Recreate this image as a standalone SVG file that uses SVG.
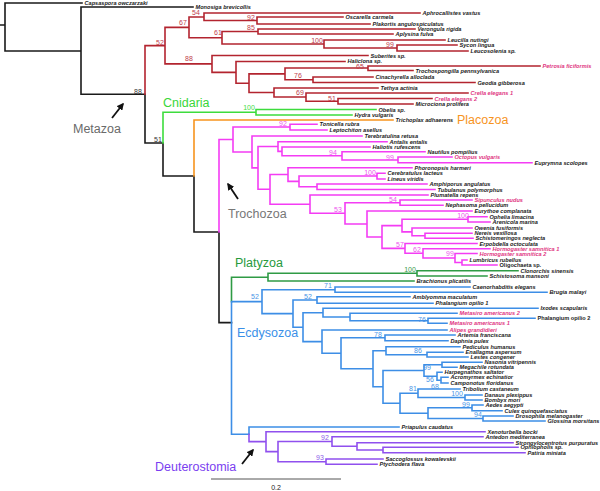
<svg xmlns="http://www.w3.org/2000/svg" width="600" height="491" viewBox="0 0 600 491">
<style>
.br{fill:none;stroke-width:1.6;stroke-linecap:square}
.lf text{font-family:"Liberation Sans",Arial,sans-serif;font-size:5.6px;font-weight:bold;font-style:italic;fill:#1c1c1c}
.lf text.up{font-style:normal}
.lf text.pk{fill:#e0357f}
.bs text{font-family:"Liberation Sans",Arial,sans-serif;font-size:7px;text-anchor:middle}
.cl{font-family:"Liberation Sans",Arial,sans-serif;font-size:12.5px}
</style>
<defs>
<marker id="ah" viewBox="0 0 10 10" refX="8" refY="5" markerWidth="4" markerHeight="4" orient="auto"><path d="M0,0L10,5L0,10z" fill="#111"/></marker>
</defs>
<g id="connectors">
<path class="br" stroke="#1a1a1a" stroke-width="1.5" d="M0,25H5M5,3V51M5,3H82M5,51H81M81,7V94.3M81,7H193M81,94.3H145M145,94.3V143M145,143H163M163,143V176M163,176H194M194,176V232M194,232H219M219,232V322.6M219,322.6H231.5"/>
<path class="br" stroke="#b3242f" d="M145,45.6V94.3M145,45.6H165M165,27.4V63.9M165,27.4H189M165,63.9H212M189,17V37.75M189,17H204M189,37.75H222M204,13V20.5M204,13H420M204,20.5H257M257,17V24M257,17H343M257,24H370M222,31.5V44M222,31.5H258M222,44H324M258,29V34M258,29H415M258,34H393M324,40V48M324,40H445M324,48H397M397,45V51M397,45H457M397,51H468M212,55.5V72.35M212,55.5H368M212,72.35H236M236,61.5V83.2M236,61.5H345M236,83.2H249M249,73.9V92.5M249,73.9H285M249,92.5H274M285,68V79.75M285,68H368M285,79.75H313M368,66V70.5M368,66H540M368,70.5H413M313,77V82.5M313,77H373M313,82.5H475M274,88V97M274,88H378M274,97H306M306,93V101.25M306,93H468M306,101.25H338M338,98.5V104M338,98.5H432M338,104H413"/>
<path class="br" stroke="#3ddc3d" d="M163,112.25V143M163,112.25H256M256,109.5V115M256,109.5H376M256,115H352"/>
<path class="br" stroke="#f7941e" d="M194,120V176M194,120H393"/>
<path class="br" stroke="#f43cf4" d="M219,139.5V232M219,139.5H233M233,127V152M233,127H290M233,152H252M290,124.3V130M290,124.3H317M290,130H327M252,136V167.9M252,136H362M252,167.9H258M258,146.5V189.3M258,146.5H278M258,189.3H270M278,141.7V151.4M278,141.7H387M278,151.4H282M282,147V155.8M282,147H370M282,155.8H342M342,151.7V160M342,151.7H425M342,160H398M398,157V162.7M398,157H452M398,162.7H532M270,174.5V204.2M270,174.5H288M270,204.2H310M288,167.7V181.4M288,167.7H412M288,181.4H299M299,176V186.7M299,176H377M299,186.7H317M377,173.3V179M377,173.3H385M377,179H385M317,184V189.5M317,184H427M317,189.5H435M310,195V213.3M310,195H428M310,213.3H345M345,202.7V224M345,202.7H400M345,224H367M400,200V205.3M400,200H472M400,205.3H443M367,211V237M367,211H472M367,237H382M382,225.6V248.4M382,225.6H402M382,248.4H405M402,219.3V231.9M402,219.3H468M402,231.9H412M468,216.7V222M468,216.7H487M468,222H490M412,228V235.8M412,228H472M412,235.8H425M425,233.3V238.3M425,233.3H472M425,238.3H473M405,243.5V253.3M405,243.5H477M405,253.3H423M423,248.7V258M423,248.7H490M423,258H455M455,253.5V262.5M455,253.5H477M455,262.5H462M462,260V265M462,260H467M462,265H497"/>
<path class="br" stroke="#2f9b45" d="M231.5,277.2V301.6M231.5,277.2H268M268,273.3V281M268,273.3H417M268,281H414M417,270.7V276M417,270.7H518M417,276H487"/>
<path class="br" stroke="#3d8ee6" d="M231.5,301.6V434.3M231.5,301.6H262M231.5,434.3H249M249,427V434.3M249,427H399M262,289.7V313.6M262,289.7H335M262,313.6H293M335,287V292.3M335,287H470M335,292.3H547M293,300V327.2M293,300H317M293,327.2H303M317,296.7V303.3M317,296.7H410M317,303.3H433M303,312.7V341.6M303,312.7H323M303,341.6H322M323,308.3V317M323,308.3H538M323,317H350M350,313.3V320.8M350,313.3H457M350,320.8H428M428,318.3V323.3M428,318.3H535M428,323.3H447M322,330V353.3M322,330H447M322,353.3H341M341,337.8V368.7M341,337.8H385M341,368.7H373M385,335V340.7M385,335H455M385,340.7H448M373,350.7V386.8M373,350.7H386M373,386.8H383M386,346.7V354.7M386,346.7H460M386,354.7H427M427,352.3V357M427,352.3H463M427,357H468M383,370.5V403.2M383,370.5H424M383,403.2H400M424,364.8V376.2M424,364.8H442M424,376.2H437M442,362.3V367.3M442,362.3H482M442,367.3H457M437,372.3V380.2M437,372.3H442M437,380.2H441M441,377.3V383M441,377.3H448M441,383H448M400,393.2V413.2M400,393.2H418M400,413.2H428M418,389V397.5M418,389H460M418,397.5H465M465,395V400M465,395H482M465,400H482M428,407.8V418.5M428,407.8H472M428,418.5H483M472,405V410.7M472,405H483M472,410.7H502M483,416V421M483,416H513M483,421H545"/>
<path class="br" stroke="#9050ee" d="M249,434.3V441.6M249,441.6H266M266,431.7V451.6M266,431.7H485M266,451.6H278M278,441.5V461.7M278,441.5H332M278,461.7H326M332,436.7V446.3M332,436.7H483M332,446.3H357M357,442.7V450M357,442.7H513M357,450H383M383,447.3V452.7M383,447.3H518M383,452.7H525M326,459V464.3M326,459H383M326,464.3H377"/>
<path stroke="#111" stroke-width="1.8" fill="none" marker-end="url(#ah)" d="M112,118L123,104"/>
<path stroke="#111" stroke-width="1.8" fill="none" marker-end="url(#ah)" d="M238,199L228,184"/>
<path stroke="#111" stroke-width="1.8" fill="none" marker-end="url(#ah)" d="M242,464L253,450"/>
</g>
<g class="lf">
<g id="leaf-capsaspora"><text x="84.5" y="5">Capsaspora owczarzaki</text></g>
<g id="leaf-monosiga"><text x="195.5" y="9">Monosiga brevicollis</text></g>
<g id="leaf-aphrocallistes"><text x="422.5" y="15">Aphrocallistes vastus</text></g>
<g id="leaf-oscarella"><text x="345.5" y="19">Oscarella carmela</text></g>
<g id="leaf-plakortis"><text x="372.5" y="26">Plakortis angulospiculatus</text></g>
<g id="leaf-verongula"><text x="417.5" y="31">Verongula rigida</text></g>
<g id="leaf-aplysina"><text x="395.5" y="36">Aplysina fulva</text></g>
<g id="leaf-leucilla"><text x="447.5" y="42">Leucilla nutingi</text></g>
<g id="leaf-sycon"><text x="459.5" y="47">Sycon lingua</text></g>
<g id="leaf-leucosolenia"><text x="470.5" y="53">Leucosolenia sp.</text></g>
<g id="leaf-suberites"><text x="370.5" y="57.5">Suberites sp.</text></g>
<g id="leaf-haliclona"><text x="347.5" y="63">Haliclona sp.</text></g>
<g id="leaf-petrosia"><text class="pk" x="542.5" y="68">Petrosia ficiformis</text></g>
<g id="leaf-trochospongilla"><text x="415.5" y="72.5">Trochospongilla pennsylvanica</text></g>
<g id="leaf-cinachyrella"><text x="375.5" y="79">Cinachyrella alloclada</text></g>
<g id="leaf-geodia"><text x="477.5" y="84.5">Geodia gibberosa</text></g>
<g id="leaf-tethya"><text x="380.5" y="90">Tethya actinia</text></g>
<g id="leaf-crella1"><text class="pk" x="470.5" y="95">Crella elegans 1</text></g>
<g id="leaf-crella2"><text class="pk" x="434.5" y="100.5">Crella elegans 2</text></g>
<g id="leaf-microciona"><text x="415.5" y="106">Microciona prolifera</text></g>
<g id="leaf-obelia"><text x="378.5" y="111.5">Obelia sp.</text></g>
<g id="leaf-hydra"><text x="354.5" y="117">Hydra vulgaris</text></g>
<g id="leaf-trichoplax"><text x="395.5" y="122">Trichoplax adhaerens</text></g>
<g id="leaf-tonicella"><text x="319.5" y="126.3">Tonicella rubra</text></g>
<g id="leaf-leptochiton"><text x="329.5" y="132">Leptochiton asellus</text></g>
<g id="leaf-terebratulina"><text x="364.5" y="138">Terebratulina retusa</text></g>
<g id="leaf-antalis"><text x="389.5" y="143.7">Antalis entalis</text></g>
<g id="leaf-haliotis"><text x="372.5" y="149">Haliotis rufescens</text></g>
<g id="leaf-nautilus"><text x="427.5" y="153.7">Nautilus pompilius</text></g>
<g id="leaf-octopus"><text class="pk" x="454.5" y="159">Octopus vulgaris</text></g>
<g id="leaf-euprymna"><text x="534.5" y="164.7">Euprymna scolopes</text></g>
<g id="leaf-phoronopsis"><text x="414.5" y="169.7">Phoronopsis harmeri</text></g>
<g id="leaf-cerebratulus"><text x="387.5" y="175.3">Cerebratulus lacteus</text></g>
<g id="leaf-lineus"><text x="387.5" y="181">Lineus viridis</text></g>
<g id="leaf-amphiporus"><text x="429.5" y="186">Amphiporus angulatus</text></g>
<g id="leaf-tubulanus"><text x="437.5" y="191.5">Tubulanus polymorphus</text></g>
<g id="leaf-plumatella"><text x="430.5" y="197">Plumatella repens</text></g>
<g id="leaf-sipunculus"><text class="pk" x="474.5" y="202">Sipunculus nudus</text></g>
<g id="leaf-nephasoma"><text x="445.5" y="207.3">Nephasoma pellucidum</text></g>
<g id="leaf-eurythoe"><text x="474.5" y="213">Eurythoe complanata</text></g>
<g id="leaf-ophelia"><text x="489.5" y="218.7">Ophelia limacina</text></g>
<g id="leaf-arenicola"><text x="492.5" y="224">Arenicola marina</text></g>
<g id="leaf-owenia"><text x="474.5" y="230">Owenia fusiformis</text></g>
<g id="leaf-nereis"><text x="474.5" y="235.3">Nereis vexillosa</text></g>
<g id="leaf-schistomeringos"><text x="475.5" y="240.3">Schistomeringos neglecta</text></g>
<g id="leaf-erpobdella"><text x="479.5" y="245.5">Erpobdella octoculata</text></g>
<g id="leaf-hormogaster1"><text class="pk" x="492.5" y="250.7">Hormogaster samnitica 1</text></g>
<g id="leaf-hormogaster2"><text class="pk" x="479.5" y="255.5">Hormogaster samnitica 2</text></g>
<g id="leaf-lumbricus"><text x="469.5" y="262">Lumbricus rubellus</text></g>
<g id="leaf-oligochaeta"><text class="up" x="499.5" y="267">Oligochaeta sp.</text></g>
<g id="leaf-clonorchis"><text x="520.5" y="272.7">Clonorchis sinensis</text></g>
<g id="leaf-schistosoma"><text x="489.5" y="278">Schistosoma mansoni</text></g>
<g id="leaf-brachionus"><text x="416.5" y="283">Brachionus plicatilis</text></g>
<g id="leaf-caenorhabditis"><text x="472.5" y="289">Caenorhabditis elegans</text></g>
<g id="leaf-brugia"><text x="549.5" y="294.3">Brugia malayi</text></g>
<g id="leaf-amblyomma"><text x="412.5" y="298.7">Amblyomma maculatum</text></g>
<g id="leaf-phalangium1"><text x="435.5" y="305.3">Phalangium opilio 1</text></g>
<g id="leaf-ixodes"><text x="540.5" y="310.3">Ixodes scapularis</text></g>
<g id="leaf-metasiro2"><text class="pk" x="459.5" y="315.3">Metasiro americanus 2</text></g>
<g id="leaf-phalangium2"><text class="up" x="537.5" y="320.3">Phalangium opilio 2</text></g>
<g id="leaf-metasiro1"><text class="pk" x="449.5" y="325.3">Metasiro americanus 1</text></g>
<g id="leaf-alipes"><text class="pk" x="449.5" y="332">Alipes grandidieri</text></g>
<g id="leaf-artemia"><text x="457.5" y="337">Artemia franciscana</text></g>
<g id="leaf-daphnia"><text x="450.5" y="342.7">Daphnia pulex</text></g>
<g id="leaf-pediculus"><text x="462.5" y="348.7">Pediculus humanus</text></g>
<g id="leaf-enallagma"><text x="465.5" y="354.3">Enallagma aspersum</text></g>
<g id="leaf-lestes"><text x="470.5" y="359">Lestes congener</text></g>
<g id="leaf-nasonia"><text x="484.5" y="364.3">Nasonia vitripennis</text></g>
<g id="leaf-megachile"><text x="459.5" y="369.3">Megachile rotundata</text></g>
<g id="leaf-harpegnathos"><text x="444.5" y="374.3">Harpegnathos saltator</text></g>
<g id="leaf-acromyrmex"><text x="450.5" y="379.3">Acromyrmex echinatior</text></g>
<g id="leaf-camponotus"><text x="450.5" y="385">Camponotus floridanus</text></g>
<g id="leaf-tribolium"><text x="462.5" y="391">Tribolium castaneum</text></g>
<g id="leaf-danaus"><text x="484.5" y="397">Danaus plexippus</text></g>
<g id="leaf-bombyx"><text x="484.5" y="402">Bombyx mori</text></g>
<g id="leaf-aedes"><text x="485.5" y="407">Aedes aegypti</text></g>
<g id="leaf-culex"><text x="504.5" y="412.7">Culex quinquefasciatus</text></g>
<g id="leaf-drosophila"><text x="515.5" y="418">Drosophila melanogaster</text></g>
<g id="leaf-glossina"><text x="547.5" y="423">Glossina morsitans</text></g>
<g id="leaf-priapulus"><text x="401.5" y="429">Priapulus caudatus</text></g>
<g id="leaf-xenoturbella"><text x="487.5" y="433.7">Xenoturbella bocki</text></g>
<g id="leaf-antedon"><text x="485.5" y="438.7">Antedon mediterranea</text></g>
<g id="leaf-strongylocentrotus"><text x="515.5" y="444.7">Strongylocentrotus purpuratus</text></g>
<g id="leaf-ophiopholis"><text x="520.5" y="449.3">Ophiopholis sp.</text></g>
<g id="leaf-patiria"><text x="527.5" y="454.7">Patiria miniata</text></g>
<g id="leaf-saccoglossus"><text x="385.5" y="461">Saccoglossus kowalevskii</text></g>
<g id="leaf-ptychodera"><text x="379.5" y="466.3">Ptychodera flava</text></g>
</g>
<g class="bs" id="support">
<g fill="#c0404c"><text x="196" y="15.2">54</text><text x="251" y="19.8">92</text><text x="183" y="25.2">67</text><text x="251" y="30">85</text><text x="218" y="34.5">61</text><text x="317" y="43">100</text><text x="160" y="44.5">52</text><text x="390" y="46.5">99</text><text x="189" y="61">88</text><text x="360" y="69.3" font-size="6.5">65</text><text x="298" y="77.5">76</text><text x="300" y="95">69</text><text x="332" y="100.5">51</text></g>
<g fill="#333"><text x="138" y="93.5">88</text><text x="158" y="142.2" font-size="6">51</text></g>
<g fill="#44dd44"><text x="249" y="110.2" font-size="6.5">100</text></g>
<g fill="#ee55ee"><text x="283" y="126.3">92</text><text x="333" y="154.5">94</text><text x="390" y="159.5">99</text><text x="370" y="174.5">100</text><text x="393" y="201.5">54</text><text x="338" y="211.5">53</text><text x="463" y="217.5">100</text><text x="400" y="246.5">57</text><text x="417" y="251.5">62</text><text x="450" y="255.5">99</text></g>
<g fill="#3a9a4a"><text x="410" y="271.5">100</text></g>
<g fill="#4a94e6"><text x="328" y="288.3">71</text><text x="255" y="299.2" font-size="6">52</text><text x="308" y="299.2" font-size="6">52</text><text x="422" y="321.5">76</text><text x="378" y="336.5">78</text><text x="418" y="352.5">86</text><text x="427" y="369.5">99</text><text x="430" y="381.5">56</text><text x="435" y="388.5">68</text><text x="413" y="390.5">81</text><text x="457" y="395.5">100</text><text x="466" y="406.5">99</text><text x="478" y="416.5">94</text></g>
<g fill="#8e5ce8"><text x="325" y="439.5">92</text><text x="320" y="459.5">93</text></g>
</g>
<g id="clade-metazoa"><text class="cl" x="73" y="133" font-size="13.5" fill="#6a6a6a">Metazoa</text></g>
<g id="clade-cnidaria"><text class="cl" x="163" y="107" fill="#39d639">Cnidaria</text></g>
<g id="clade-placozoa"><text class="cl" x="457" y="124" font-size="13" fill="#f7941e">Placozoa</text></g>
<g id="clade-trochozoa"><text class="cl" x="228" y="218" font-size="12" fill="#777">Trochozoa</text></g>
<g id="clade-platyzoa"><text class="cl" x="235" y="267" fill="#279a3c">Platyzoa</text></g>
<g id="clade-ecdysozoa"><text class="cl" x="237" y="337" fill="#3a8fe8">Ecdysozoa</text></g>
<g id="clade-deuterostomia"><text class="cl" x="155" y="471" fill="#7a3ef0">Deuterostomia</text></g>
<g id="scale">
<path d="M211,479H341" stroke="#555" stroke-width="1"/>
<text x="276" y="490" font-family="Liberation Sans,Arial,sans-serif" font-size="7" text-anchor="middle" fill="#222">0.2</text>
</g>
</svg>
